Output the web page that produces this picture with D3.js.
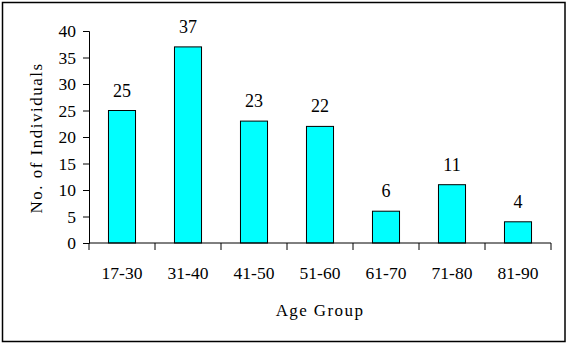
<!DOCTYPE html>
<html>
<head>
<meta charset="utf-8">
<script src="https://cdn.jsdelivr.net/npm/d3@7"></script>
<style>
	body { margin: 0; background: #fff; }
	svg text { font-family: "Liberation Serif", "Times New Roman", serif; fill: #000; }
</style>
</head>
<body>
<div id="chart"></div>
<script>
// data
var ageGroups = ["17-30", "31-40", "41-50", "51-60", "61-70", "71-80", "81-90"];
var counts = [25, 37, 23, 22, 6, 11, 4];
var yTicks = [0, 5, 10, 15, 20, 25, 30, 35, 40];

var W = 568, H = 344;
var margin = {top: 31, right: 17, bottom: 101, left: 89};
var width = W - margin.left - margin.right;
var height = H - margin.top - margin.bottom;

var svg = d3.select("#chart").append("svg")
	.attr("width", W)
	.attr("height", H);

// outer frame
svg.append("rect")
	.attr("x", 2.5).attr("y", 2.5)
	.attr("width", W - 5.5).attr("height", H - 5)
	.attr("fill", "#fff")
	.attr("stroke", "#000")
	.attr("stroke-width", 1.5);

var g = svg.append("g")
	.attr("transform", "translate(" + margin.left + "," + margin.top + ")");

var x = d3.scaleBand().domain(ageGroups).range([0, width]).paddingInner(0.59).paddingOuter(0.295);
var xTick = d3.scaleBand().domain(ageGroups).range([0, width]);
var y = d3.scaleLinear().domain([0, 40]).range([height, 0]);

// bars
g.selectAll("rect.bar")
	.data(counts)
	.enter().append("rect")
	.attr("class", "bar")
	.attr("x", function(d, i) { return x(ageGroups[i]); })
	.attr("y", function(d) { return y(d); })
	.attr("width", x.bandwidth())
	.attr("height", function(d) { return height - y(d); })
	.attr("fill", "#00ffff")
	.attr("stroke", "#000")
	.attr("stroke-width", 1);

// value labels
g.selectAll("text.val")
	.data(counts)
	.enter().append("text")
	.attr("class", "val")
	.attr("x", function(d, i) { return x(ageGroups[i]) + x.bandwidth() / 2; })
	.attr("y", function(d) { return y(d) - 14; })
	.attr("text-anchor", "middle")
	.style("font-size", "18px")
	.text(function(d) { return d; });

// y axis
var yAxis = g.append("g")
	.call(d3.axisLeft(y).tickValues(yTicks).tickSize(6).tickPadding(7));
yAxis.selectAll("text").style("font-size", "17.5px").style("font-family", "Liberation Serif, serif");
yAxis.selectAll("line, path").attr("stroke", "#000");

// x axis: ticks at band boundaries
var xAxis = g.append("g")
	.attr("transform", "translate(0," + height + ")");
xAxis.append("line")
	.attr("x1", 0).attr("x2", width)
	.attr("stroke", "#000");
xAxis.selectAll("line.tk")
	.data(ageGroups.concat(["end"]))
	.enter().append("line")
	.attr("class", "tk")
	.attr("x1", function(d, i) { return i * xTick.step(); })
	.attr("x2", function(d, i) { return i * xTick.step(); })
	.attr("y1", 0).attr("y2", 7)
	.attr("stroke", "#000");
xAxis.selectAll("text")
	.data(ageGroups)
	.enter().append("text")
	.attr("x", function(d) { return xTick(d) + xTick.bandwidth() / 2; })
	.attr("y", 36)
	.attr("text-anchor", "middle")
	.style("font-size", "17.5px")
	.text(function(d) { return d; });

// axis titles
svg.append("text")
	.attr("x", 320)
	.attr("y", 316)
	.attr("text-anchor", "middle")
	.style("font-size", "17px")
	.style("letter-spacing", "1.4px")
	.text("Age Group");

svg.append("text")
	.attr("transform", "translate(42,138) rotate(-90)")
	.attr("text-anchor", "middle")
	.style("font-size", "17px")
	.style("letter-spacing", "1.5px")
	.text("No. of Individuals");
</script>
</body>
</html>
